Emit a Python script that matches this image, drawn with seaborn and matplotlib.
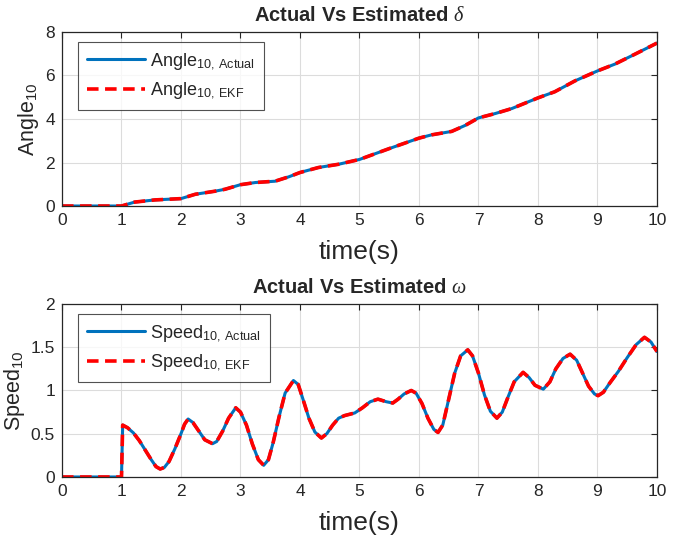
import pandas as pd
import matplotlib
matplotlib.use('Agg')
import matplotlib.pyplot as plt
import seaborn as sns

# values
angle_t = [0, 0.5, 1.0, 1.22, 1.56, 2.0, 2.24, 2.57, 2.74, 3.0, 3.25, 3.58, 3.81,
           4.0, 4.31, 4.65, 5.0, 5.49, 6.0, 6.21, 6.55, 6.78, 7.0, 7.28, 7.56,
           8.0, 8.28, 8.62, 9.0, 9.29, 9.63, 10.0]
angle_v = [0, 0, 0, 0.18, 0.28, 0.34, 0.54, 0.68, 0.77, 0.98, 1.08, 1.14, 1.34,
           1.54, 1.77, 1.92, 2.14, 2.63, 3.12, 3.27, 3.43, 3.71, 4.05, 4.25, 4.48,
           4.97, 5.25, 5.75, 6.21, 6.52, 6.98, 7.49]

speed_t = [0, 0.5, 1.0, 1.02, 1.1, 1.2, 1.3, 1.4, 1.5, 1.58, 1.65, 1.72, 1.8, 1.9,
           2.0, 2.06, 2.12, 2.2, 2.3, 2.4, 2.53, 2.6, 2.7, 2.8, 2.92, 3.0, 3.1,
           3.2, 3.3, 3.39, 3.47, 3.55, 3.65, 3.75, 3.89, 3.97, 4.05, 4.15, 4.25,
           4.36, 4.45, 4.55, 4.65, 4.75, 4.92, 5.05, 5.18, 5.31, 5.45, 5.56, 5.65,
           5.75, 5.87, 5.95, 6.05, 6.15, 6.25, 6.32, 6.4, 6.5, 6.6, 6.7, 6.82,
           6.9, 7.0, 7.1, 7.2, 7.31, 7.4, 7.5, 7.6, 7.75, 7.85, 7.95, 8.09, 8.2,
           8.3, 8.42, 8.54, 8.65, 8.75, 8.85, 8.95, 9.01, 9.1, 9.2, 9.35, 9.5,
           9.65, 9.79, 9.9, 10.0]
speed_v = [0, 0, 0, 0.6, 0.57, 0.51, 0.42, 0.31, 0.2, 0.12, 0.092, 0.11, 0.18, 0.33,
           0.5, 0.61, 0.67, 0.63, 0.53, 0.43, 0.385, 0.41, 0.53, 0.68, 0.8, 0.75, 0.6,
           0.38, 0.2, 0.135, 0.2, 0.4, 0.7, 0.97, 1.115, 1.07, 0.9, 0.68, 0.52,
           0.45, 0.5, 0.6, 0.68, 0.71, 0.74, 0.8, 0.87, 0.9, 0.87, 0.855, 0.9,
           0.96, 1.0, 0.97, 0.85, 0.68, 0.55, 0.515, 0.6, 0.9, 1.2, 1.4, 1.47,
           1.4, 1.2, 0.95, 0.76, 0.68, 0.75, 0.93, 1.1, 1.21, 1.15, 1.06, 1.015, 1.1,
           1.25, 1.37, 1.42, 1.35, 1.2, 1.05, 0.96, 0.94, 0.98, 1.08, 1.22, 1.38,
           1.53, 1.615, 1.56, 1.45]

sns.set_style('white')
plt.rcParams['font.family'] = ['Liberation Sans', 'DejaVu Sans']
plt.rcParams['mathtext.fontset'] = 'custom'
plt.rcParams['mathtext.rm'] = 'Liberation Sans'
plt.rcParams['mathtext.it'] = 'Liberation Serif:italic'
plt.rcParams['mathtext.bf'] = 'Liberation Serif:bold:italic'

fig = plt.figure(figsize=(6.82, 5.44), dpi=100)
ax1 = fig.add_axes([0.0909, 0.6213, 0.8724, 0.3199])
ax2 = fig.add_axes([0.0909, 0.1232, 0.8724, 0.318])

panels = [
    (ax1, angle_t, angle_v, 'Angle', (0, 8), [0, 2, 4, 6, 8], ['0', '2', '4', '6', '8'], r'$\delta$'),
    (ax2, speed_t, speed_v, 'Speed', (0, 2), [0, 0.5, 1, 1.5, 2], ['0', '0.5', '1', '1.5', '2'], r'$\omega$'),
]

for ax, t, v, name, ylim, yt, ytl, sym in panels:
    df = pd.DataFrame({'t': t, 'v': v})
    sns.lineplot(data=df, x='t', y='v', ax=ax, color='#0072BD', lw=2.2,
                 label=name + r'$_{\mathregular{10,\ Actual}}$')
    sns.lineplot(data=df, x='t', y='v', ax=ax, color='#FF0000', lw=2.6,
                 dashes=False, label=name + r'$_{\mathregular{10,\ EKF}}$')
    ax.lines[1].set_dashes((3.2, 1.8))
    ax.set_xlim(0, 10)
    ax.set_ylim(*ylim)
    ax.set_xticks(range(11))
    ax.set_yticks(yt)
    ax.set_yticklabels(ytl)
    ax.grid(True, color='#dcdcdc', lw=0.8)
    ax.tick_params(direction='in', top=True, right=True, length=4, width=0.8,
                   labelsize=12.5, colors='#262626', pad=5)
    for s in ax.spines.values():
        s.set_color('#262626')
        s.set_linewidth(0.9)
    ax.set_xlabel('time(s)', fontsize=19, color='#262626', labelpad=9)
    ax.set_ylabel(name + r'$_{\mathregular{10}}$', fontsize=15.5, color='#262626', labelpad=3)
    ax.set_title('Actual Vs Estimated ' + sym, fontsize=14.5, fontweight='bold', pad=8)
    leg = ax.legend(loc='upper left', bbox_to_anchor=(0.027, 0.942), borderaxespad=0,
                    fontsize=13, frameon=True, fancybox=False,
                    edgecolor='#262626', handlelength=3.2, borderpad=0.5,
                    labelspacing=0.5, handletextpad=0.3)
    leg.get_frame().set_linewidth(0.8)

fig.savefig('out.png', dpi=100)
